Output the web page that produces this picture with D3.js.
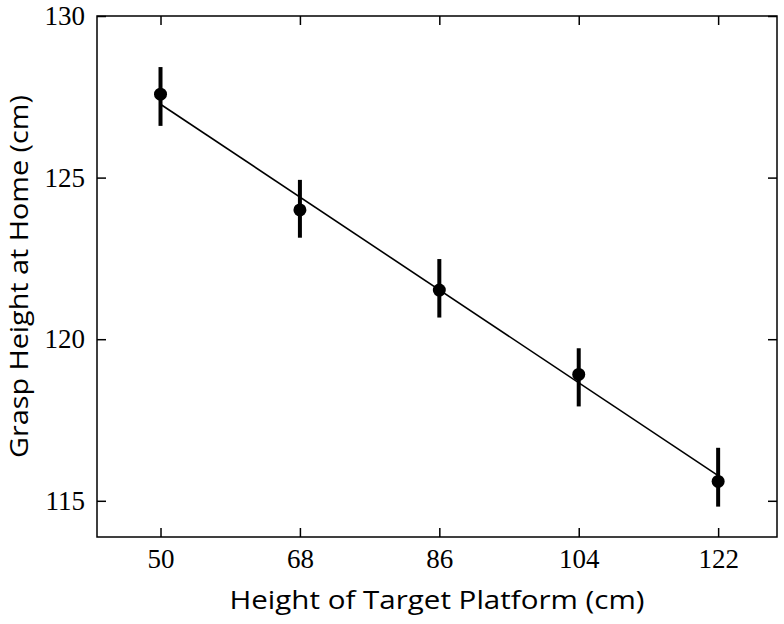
<!DOCTYPE html>
<html>
<head>
<meta charset="utf-8">
<script src="https://cdn.jsdelivr.net/npm/d3@7"></script>
<style>
  html, body { margin: 0; padding: 0; background: #fff; }
  svg { display: block; }
</style>
</head>
<body>
<svg id="chart" width="784" height="624"></svg>
<script>
// ---- data ----
const platformHeights = [50, 68, 86, 104, 122];
const graspMeans      = [127.58, 124.0, 121.52, 118.91, 115.6];
const errUpper        = [128.42, 124.93, 122.48, 119.72, 116.64];
const errLower        = [126.6, 123.14, 120.67, 117.92, 114.82];
const fitX            = [50, 122];
const fitY            = [127.27, 115.78];
const xTickValues     = [50, 68, 86, 104, 122];
const yTickValues     = [115, 120, 125, 130];
const xTitle = "Height of Target Platform (cm)";
const yTitle = "Grasp Height at Home (cm)";

// ---- layout ----
const svg = d3.select("#chart");
const L = 97, R = 777, T = 16, B = 537;

const x = d3.scaleLinear().domain([41.8, 129.6]).range([L, R]);
const y = d3.scaleLinear().domain([113.88, 130]).range([B, T]);

const tickFont = "'Liberation Serif', 'Times New Roman', serif";
const titleFont = "'Open Sans', 'Noto Sans', sans-serif";

// frame
svg.append("rect")
  .attr("x", L).attr("y", T).attr("width", R - L).attr("height", B - T)
  .attr("fill", "none").attr("stroke", "#000").attr("stroke-width", 1.5);

function styleAxis(g) {
  g.select(".domain").remove();
  g.selectAll(".tick line").attr("stroke", "#000").attr("stroke-width", 1.5);
  g.selectAll(".tick text").attr("fill", "#000")
    .style("font-family", tickFont).style("font-size", "27px");
}
const tickLen = 9;
svg.append("g").attr("transform", `translate(0,${B})`)
  .call(d3.axisBottom(x).tickValues(xTickValues).tickSize(-tickLen).tickPadding(12))
  .call(styleAxis);
svg.append("g").attr("transform", `translate(0,${T})`)
  .call(d3.axisTop(x).tickValues(xTickValues).tickSize(-tickLen).tickFormat(""))
  .call(styleAxis);
svg.append("g").attr("transform", `translate(${L},0)`)
  .call(d3.axisLeft(y).tickValues(yTickValues).tickSize(-tickLen).tickPadding(12))
  .call(styleAxis);
svg.append("g").attr("transform", `translate(${R},0)`)
  .call(d3.axisRight(y).tickValues(yTickValues).tickSize(-tickLen).tickFormat(""))
  .call(styleAxis);

// regression line
svg.append("line")
  .attr("x1", x(fitX[0])).attr("y1", y(fitY[0]))
  .attr("x2", x(fitX[1])).attr("y2", y(fitY[1]))
  .attr("stroke", "#000").attr("stroke-width", 1.6);

// error bars
const pts = platformHeights.map((h, i) => ({ h, m: graspMeans[i], hi: errUpper[i], lo: errLower[i] }));
svg.append("g").selectAll("line").data(pts).join("line")
  .attr("x1", d => x(d.h)).attr("x2", d => x(d.h))
  .attr("y1", d => y(d.hi)).attr("y2", d => y(d.lo))
  .attr("stroke", "#000").attr("stroke-width", 4);

// points
svg.append("g").selectAll("circle").data(pts).join("circle")
  .attr("cx", d => x(d.h)).attr("cy", d => y(d.m)).attr("r", 6.5)
  .attr("fill", "#000");

// titles
svg.append("text")
  .attr("x", (L + R) / 2).attr("y", 609)
  .attr("text-anchor", "middle")
  .style("font-family", titleFont).style("font-size", "26px")
  .attr("textLength", 415).attr("lengthAdjust", "spacingAndGlyphs")
  .text(xTitle);

svg.append("text")
  .attr("transform", `translate(28,${(T + B) / 2}) rotate(-90)`)
  .attr("text-anchor", "middle")
  .style("font-family", titleFont).style("font-size", "25px")
  .attr("textLength", 363).attr("lengthAdjust", "spacingAndGlyphs")
  .text(yTitle);
</script>
</body>
</html>
